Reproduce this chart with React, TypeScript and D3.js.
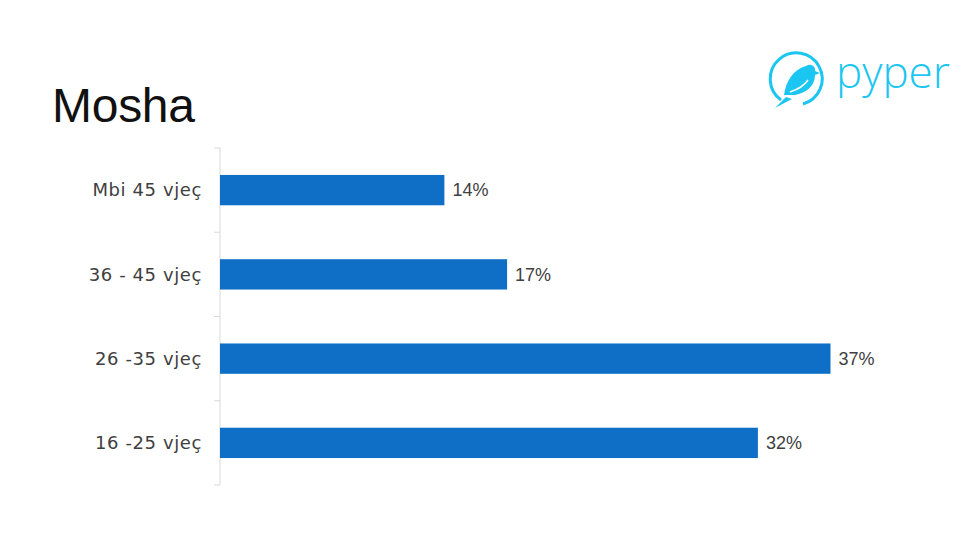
import React from "react";
import * as d3 from "d3";

const categories = ["Mbi 45 vjeç", "36 - 45 vjeç", "26 -35 vjeç", "16 -25 vjeç"];
const values = [13.6, 17.4, 37.0, 32.6];
const valueLabels = ["14%", "17%", "37%", "32%"];
const title = "Mosha";

const W = 980;
const H = 551;

export default function App() {
  const x = d3.scaleLinear().domain([0, 40]).range([220, 880]);
  const y = d3.scaleBand<string>().domain(categories).range([148, 485]).paddingInner(0.64).paddingOuter(0.32);
  const bandEdges = d3.range(categories.length + 1).map((i) => 148 + (i * (485 - 148)) / categories.length);
  const font = "'Liberation Sans', 'DejaVu Sans', sans-serif";
  const catFont = "'DejaVu Sans', sans-serif";
  const cyan = "#1cc6f2";
  return (
    <svg width={W} height={H} style={{ position: "absolute", left: 0, top: 0, background: "#fff" }}>
      <text x={52} y={122} fontFamily={font} fontSize={48} fill="#111" textLength={143}>{title}</text>
      {/* logo */}
      <g>
        <path d="M 781 100 A 26 26 0 1 1 803 104" fill="none" stroke={cyan} strokeWidth={3} />
        <path d="M 784 95 C 786 82 792 70 806 66 C 810 63 816 66 815 71 L 820 73 L 815 75 C 815 86 806 93 795 95 Z" fill={cyan} />
        <path d="M 790 92 C 796 90 804 86 808 80" fill="none" stroke="#fff" strokeWidth={1.5} />
        <path d="M 786 97 L 775 108 L 792 99 Z" fill={cyan} />
        <text x={836} y={88} fontFamily="'Open Sans', 'Noto Sans', sans-serif" fontWeight={300} fontSize={44} fill={cyan}>pyper</text>
      </g>
      {/* axis */}
      <line x1={220} x2={220} y1={148} y2={485} stroke="#d9d9d9" strokeWidth={1} />
      {bandEdges.map((e, i) => (
        <line key={i} x1={214} x2={220} y1={e} y2={e} stroke="#d9d9d9" strokeWidth={1} />
      ))}
      {categories.map((c, i) => {
        const yy = y(c)!;
        const bw = y.bandwidth();
        return (
          <g key={c}>
            <rect x={x(0)} y={yy} width={x(values[i]) - x(0)} height={bw} fill="#0f6fc6" />
            <text x={202} y={yy + bw / 2} dy="0.35em" textAnchor="end" fontFamily={catFont} fontSize={18} letterSpacing={0.6} fill="#404040">{c}</text>
            <text x={x(values[i]) + 8} y={yy + bw / 2} dy="0.35em" fontFamily={font} fontSize={18} fill="#404040">{valueLabels[i]}</text>
          </g>
        );
      })}
    </svg>
  );
}
